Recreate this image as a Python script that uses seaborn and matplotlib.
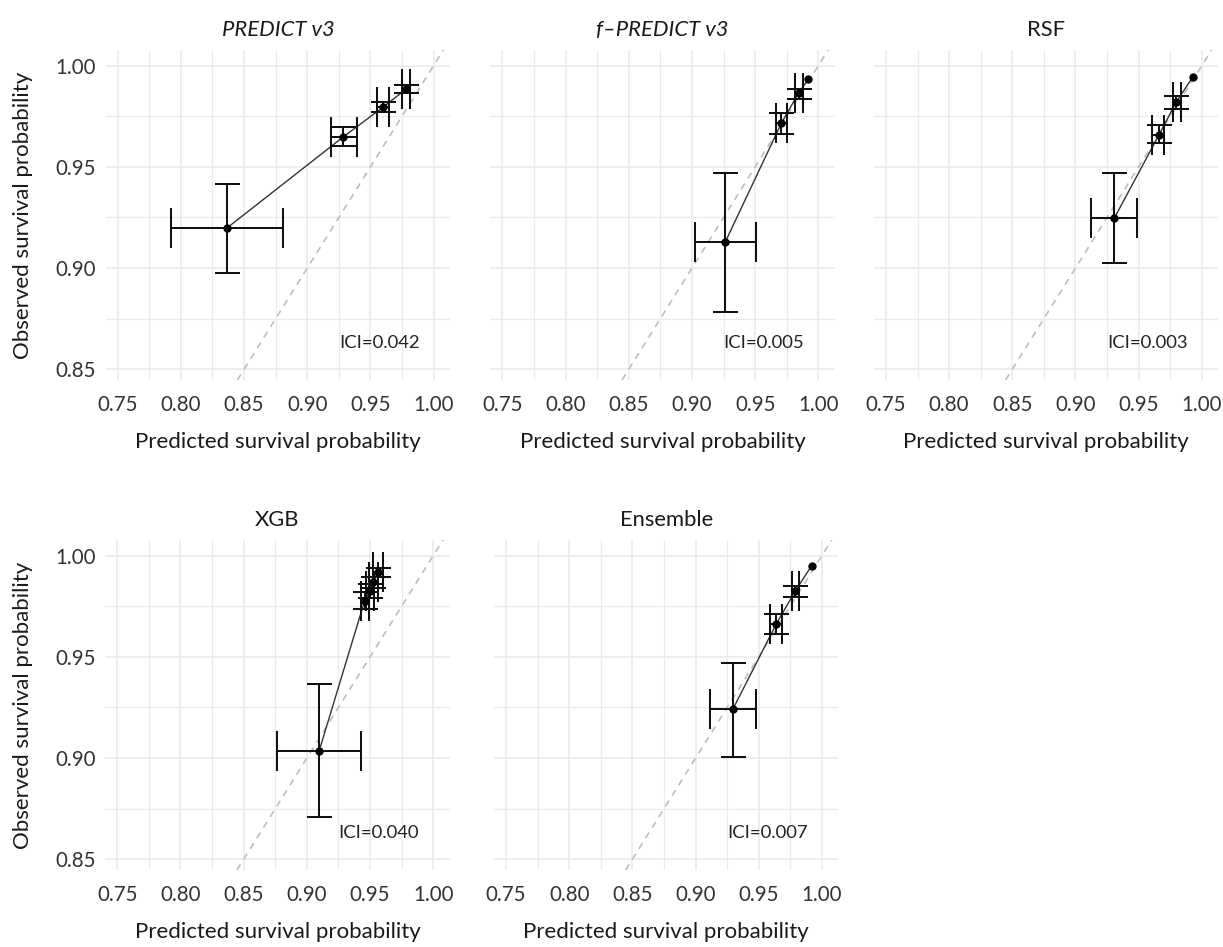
import numpy as np
import pandas as pd
import matplotlib
matplotlib.use("Agg")
import matplotlib.pyplot as plt
import seaborn as sns
from matplotlib.ticker import FixedLocator

# ---------------- data ----------------
titles = ["PREDICT v3", "f\u2013PREDICT v3", "RSF", "XGB", "Ensemble"]
title_italic = [True, True, False, False, False]
ici_labels = ["ICI=0.042", "ICI=0.005", "ICI=0.003", "ICI=0.040", "ICI=0.007"]

# PREDICT v3
pred_predict = [0.8365, 0.9283, 0.9600, 0.9778]
obs_predict = [0.9198, 0.9647, 0.9795, 0.9882]
pred_lo_predict = [0.7922, 0.9188, 0.9551, 0.9747]
pred_hi_predict = [0.8808, 0.9393, 0.9646, 0.9813]
obs_lo_predict = [0.8975, 0.9602, 0.9770, 0.9863]
obs_hi_predict = [0.9415, 0.9696, 0.9820, 0.9904]

# f-PREDICT v3
pred_fpredict = [0.9262, 0.9707, 0.9845, 0.9920]
obs_fpredict = [0.9127, 0.9715, 0.9866, 0.9932]
pred_lo_fpredict = [0.9026, 0.9662, 0.9813, np.nan]
pred_hi_fpredict = [0.9503, 0.9755, 0.9880, np.nan]
obs_lo_fpredict = [0.8781, 0.9660, 0.9835, np.nan]
obs_hi_fpredict = [0.9468, 0.9767, 0.9882, np.nan]

# RSF
pred_rsf = [0.9306, 0.9660, 0.9798, 0.9930]
obs_rsf = [0.9245, 0.9657, 0.9821, 0.9945]
pred_lo_rsf = [0.9125, 0.9609, 0.9772, np.nan]
pred_hi_rsf = [0.9489, 0.9701, 0.9837, np.nan]
obs_lo_rsf = [0.9023, 0.9616, 0.9785, np.nan]
obs_hi_rsf = [0.9468, 0.9706, 0.9850, np.nan]

# XGB
pred_xgb = [0.9096, 0.9457, 0.9500, 0.9525, 0.9562]
obs_xgb = [0.9033, 0.9777, 0.9825, 0.9868, 0.9918]
pred_lo_xgb = [0.8761, 0.9430, 0.9470, 0.9490, 0.9520]
pred_hi_xgb = [0.9428, 0.9490, 0.9530, 0.9560, 0.9600]
obs_lo_xgb = [0.8708, 0.9735, 0.9790, 0.9840, 0.9895]
obs_hi_xgb = [0.9367, 0.9820, 0.9860, 0.9895, 0.9940]

# Ensemble
pred_ens = [0.9294, 0.9637, 0.9787, 0.9918]
obs_ens = [0.9240, 0.9661, 0.9823, 0.9950]
pred_lo_ens = [0.9118, 0.9589, 0.9760, np.nan]
pred_hi_ens = [0.9481, 0.9684, 0.9815, np.nan]
obs_lo_ens = [0.9005, 0.9612, 0.9794, np.nan]
obs_hi_ens = [0.9471, 0.9711, 0.9851, np.nan]

x_ticks = [0.75, 0.80, 0.85, 0.90, 0.95, 1.00]
x_tick_labels = ["0.75", "0.80", "0.85", "0.90", "0.95", "1.00"]
y_ticks = [0.85, 0.90, 0.95, 1.00]
y_tick_labels = ["0.85", "0.90", "0.95", "1.00"]
x_label = "Predicted survival probability"
y_label = "Observed survival probability"

series = [
    (pred_predict, obs_predict, pred_lo_predict, pred_hi_predict, obs_lo_predict, obs_hi_predict),
    (pred_fpredict, obs_fpredict, pred_lo_fpredict, pred_hi_fpredict, obs_lo_fpredict, obs_hi_fpredict),
    (pred_rsf, obs_rsf, pred_lo_rsf, pred_hi_rsf, obs_lo_rsf, obs_hi_rsf),
    (pred_xgb, obs_xgb, pred_lo_xgb, pred_hi_xgb, obs_lo_xgb, obs_hi_xgb),
    (pred_ens, obs_ens, pred_lo_ens, pred_hi_ens, obs_lo_ens, obs_hi_ens),
]

# ---------------- style ----------------
sns.set_theme(style="white")
plt.rcParams['font.family'] = ['Lato', 'DejaVu Sans']

W, H = 1223, 947
fig = plt.figure(figsize=(W / 100, H / 100), dpi=100)

ax_w = 344.4 / W
ax_h = 330 / H
lefts_px = [105.7, 490.4, 873.9, 105.3, 494.0]
bottoms_px = [380, 380, 380, 870, 870]

xlim = (0.7405, 1.013)
ylim = (0.8447, 1.0077)
grid_col = "#EBEBEB"

for i in range(5):
    ax = fig.add_axes([lefts_px[i] / W, 1 - bottoms_px[i] / H, ax_w, ax_h])
    pred, obs, plo, phi, olo, ohi = [np.asarray(a, dtype=float) for a in series[i]]
    df = pd.DataFrame({"pred": pred, "obs": obs})

    ax.set_xlim(*xlim)
    ax.set_ylim(*ylim)

    # grid
    ax.xaxis.set_major_locator(FixedLocator(x_ticks))
    ax.yaxis.set_major_locator(FixedLocator(y_ticks))
    ax.xaxis.set_minor_locator(FixedLocator([0.775, 0.825, 0.875, 0.925, 0.975]))
    ax.yaxis.set_minor_locator(FixedLocator([0.875, 0.925, 0.975]))
    ax.grid(True, which="major", color=grid_col, linewidth=1.2, zorder=0)
    ax.grid(True, which="minor", color=grid_col, linewidth=0.9, zorder=0)
    ax.set_axisbelow(True)
    for s in ax.spines.values():
        s.set_visible(False)

    # identity line
    ax.axline((0.8, 0.8), slope=1, color="#BDBDBD", linestyle=(0, (4, 3.5)),
              linewidth=1.2, zorder=1)

    # connecting line
    sns.lineplot(data=df, x="pred", y="obs", ax=ax, sort=False, estimator=None,
                 color="#333333", linewidth=1.0, zorder=2)

    # error bars
    yerr = np.vstack([obs - olo, ohi - obs])
    xerr = np.vstack([pred - plo, phi - pred])
    ax.errorbar(pred, obs, yerr=yerr, fmt="none", ecolor="#111111",
                elinewidth=1.45, capsize=9.0, capthick=1.45, zorder=3)
    ax.errorbar(pred, obs, xerr=xerr, fmt="none", ecolor="#111111",
                elinewidth=1.45, capsize=14.4, capthick=1.45, zorder=3)

    # points
    sns.scatterplot(data=df, x="pred", y="obs", ax=ax, color="black", s=36,
                    edgecolor="black", linewidth=0, zorder=4)

    ax.text(0.957, 0.863, ici_labels[i], ha="center", va="center",
            fontsize=13.3, color="#222222")

    ax.set_title(titles[i], fontsize=15.8, pad=10, color="#1a1a1a",
                 fontstyle="italic" if title_italic[i] else "normal")

    ax.tick_params(axis="both", which="both", length=0, labelsize=14.8,
                   colors="#333333")
    ax.tick_params(axis="x", pad=11)
    ax.tick_params(axis="y", pad=7)
    ax.set_xticklabels(x_tick_labels)
    ax.set_xlabel(x_label, fontsize=16, color="#1a1a1a")
    ax.xaxis.set_label_coords(0.5, -0.158)
    ax.xaxis.label.set_va("top")

    if i in (0, 3):
        ax.set_yticklabels(y_tick_labels)
        ax.set_ylabel(y_label, fontsize=16, color="#1a1a1a")
        ax.yaxis.set_label_coords(-0.21, 0.5)
    else:
        ax.set_yticklabels([])
        ax.set_ylabel("")

fig.savefig("out.png", dpi=100)
